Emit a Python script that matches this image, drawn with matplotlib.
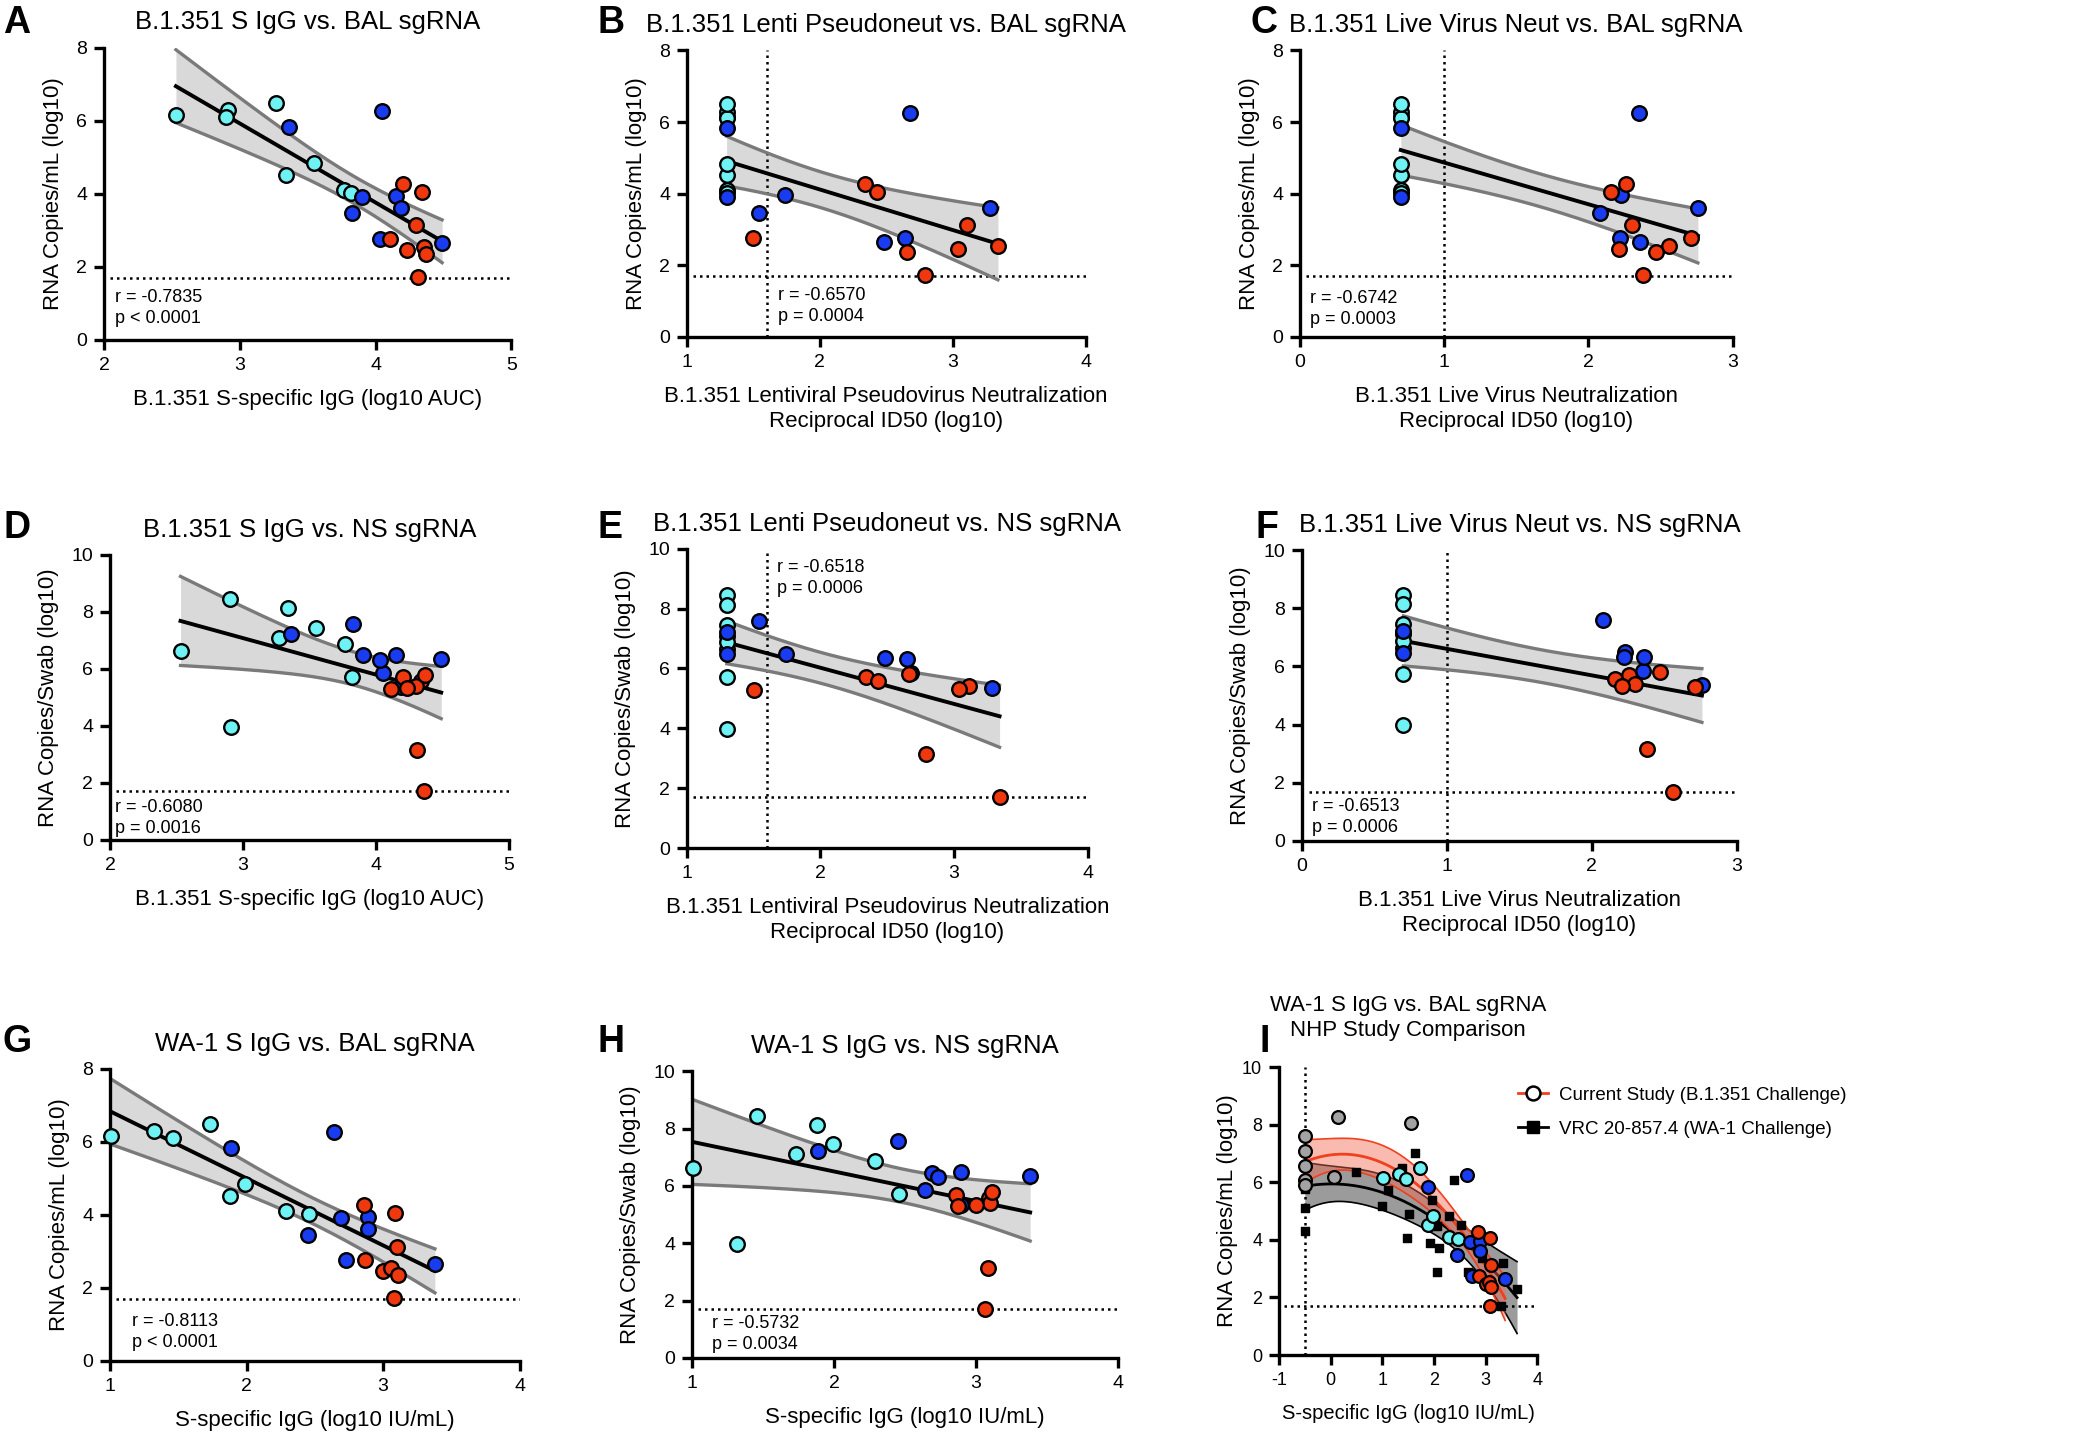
import numpy as np
import matplotlib
matplotlib.use('Agg')
import matplotlib.pyplot as plt
from matplotlib.lines import Line2D

plt.rcParams['font.family'] = 'Liberation Sans'
plt.rcParams['axes.unicode_minus'] = False

# 8 animals per group, same animal order in every list
bal_cyan = [6.15, 6.28, 6.11, 6.49, 4.52, 4.83, 4.09, 4.02]
bal_blue = [5.82, 6.26, 3.91, 3.46, 3.95, 3.61, 2.76, 2.65]
bal_red = [4.27, 4.05, 3.13, 2.76, 2.45, 2.54, 2.36, 1.72]

ns_cyan = [6.64, 3.97, 8.44, 7.10, 8.13, 7.45, 6.87, 5.73]
ns_blue = [7.22, 5.85, 6.47, 7.58, 6.49, 5.35, 6.32, 6.34]
ns_red = [5.70, 5.57, 5.40, 5.29, 5.32, 1.70, 5.80, 3.15]

igg351_cyan = [2.53, 2.91, 2.90, 3.27, 3.34, 3.55, 3.77, 3.82]
igg351_blue = [3.36, 4.05, 3.90, 3.83, 4.15, 4.19, 4.03, 4.49]
igg351_red = [4.20, 4.34, 4.30, 4.11, 4.23, 4.36, 4.37, 4.31]

lenti_cyan = [1.30, 1.30, 1.30, 1.30, 1.30, 1.30, 1.30, 1.30]
lenti_blue = [1.30, 2.68, 1.30, 1.54, 1.74, 3.28, 2.645, 2.48]
lenti_red = [2.34, 2.43, 3.11, 1.50, 3.04, 3.34, 2.66, 2.79]

live_cyan = [0.70, 0.70, 0.70, 0.70, 0.70, 0.70, 0.70, 0.70]
live_blue = [0.70, 2.35, 0.70, 2.08, 2.23, 2.76, 2.22, 2.36]
live_red = [2.26, 2.16, 2.30, 2.71, 2.21, 2.56, 2.47, 2.38]

wa1_cyan = [1.01, 1.32, 1.46, 1.73, 1.88, 1.99, 2.29, 2.46]
wa1_blue = [1.885, 2.64, 2.69, 2.45, 2.89, 2.89, 2.73, 3.38]
wa1_red = [2.86, 3.09, 3.10, 2.87, 3.00, 3.06, 3.11, 3.08]

# extra current-study animals shown only in panel I
wa1_gray = [-0.5, -0.5, -0.5, -0.5, -0.5, 0.07, 0.15, 1.55]
bal_gray = [7.59, 7.07, 6.55, 6.08, 5.91, 6.18, 8.25, 8.05]

# VRC 20-857.4 (WA-1 challenge); a few at -0.5 sit under the grey circles
vrc_igg = [-0.5, -0.5, -0.5, -0.5, -0.5, -0.5, 0.49, 1.00, 1.12, 1.38, 1.48, 1.51, 1.63,
           1.96, 1.93, 2.06, 2.09, 2.07, 2.29, 2.38, 2.53, 2.67, 2.93, 3.34, 3.29, 3.61]
vrc_bal = [5.10, 4.29, 5.75, 6.10, 6.60, 7.10, 6.35, 5.16, 5.74, 6.49, 4.08, 4.90, 7.01,
           5.37, 3.88, 4.48, 3.71, 2.87, 4.84, 6.08, 4.50, 2.87, 3.38, 3.21, 1.71, 2.28]

LOD = 1.7
CYAN = '#6EF2F4'
BLUE = '#1A3CF0'
RED = '#F0380F'
GRAY = '#A3A3A3'


def fit_band(x, y, deg, xs, t=2.07):
    x = np.asarray(x, float)
    y = np.asarray(y, float)
    X = np.vander(x, deg + 1)
    beta = np.linalg.lstsq(X, y, rcond=None)[0]
    resid = y - X @ beta
    s2 = resid @ resid / (len(x) - deg - 1)
    cov = s2 * np.linalg.inv(X.T @ X)
    Xs = np.vander(xs, deg + 1)
    fit = Xs @ beta
    se = np.sqrt(np.einsum('ij,jk,ik->i', Xs, cov, Xs))
    return fit, fit - t * se, fit + t * se


def style_axes(ax, xlim, xticks, ylim, yticks):
    ax.set_xlim(xlim)
    ax.set_ylim(ylim)
    ax.set_xticks(xticks)
    ax.set_yticks(yticks)
    for s in ['top', 'right']:
        ax.spines[s].set_visible(False)
    for s in ['left', 'bottom']:
        ax.spines[s].set_linewidth(2.4)
    ax.tick_params(direction='out', length=7, width=2.4, labelsize=14, pad=5)


fig = plt.figure(figsize=(21, 14.4), dpi=100)


def panel(rect, letter, letter_xy, title, xs, ys, xlim, xticks, ylim, yticks,
          xlabel, ylabel, stat, stat_xy, vline=None):
    ax = fig.add_axes(rect)
    allx = np.concatenate([np.asarray(v, float) for v in xs])
    ally = np.concatenate([np.asarray(v, float) for v in ys])
    grid = np.linspace(allx.min(), allx.max(), 200)
    fit, lo, hi = fit_band(allx, ally, 1, grid)
    ax.fill_between(grid, lo, hi, color='#d9d9d9', lw=0, zorder=1)
    ax.plot(grid, lo, color='#7a7a7a', lw=2.4, zorder=2)
    ax.plot(grid, hi, color='#7a7a7a', lw=2.4, zorder=2)
    ax.plot(grid, fit, color='black', lw=2.8, zorder=3)
    ax.axhline(LOD, xmin=0.015, color='black', ls=(0, (1, 1.6)), lw=1.8, zorder=1.5)
    if vline is not None:
        ax.axvline(vline, color='black', ls=(0, (1, 1.6)), lw=1.8, zorder=1.5)
    for x, y, c in zip(xs, ys, [CYAN, BLUE, RED]):
        ax.scatter(x, y, s=110, c=c, edgecolors='black', linewidths=1.7, zorder=4, clip_on=False)
    style_axes(ax, xlim, xticks, ylim, yticks)
    ax.set_title(title, fontsize=18.5, pad=13)
    ax.set_xlabel(xlabel, fontsize=16, labelpad=11, linespacing=1.25)
    ax.set_ylabel(ylabel, fontsize=16, labelpad=9)
    ax.text(stat_xy[0], stat_xy[1], stat, transform=ax.transAxes, fontsize=13,
            va='top', ha='left', linespacing=1.3)
    fig.text(letter_xy[0] / 2100, 1 - letter_xy[1] / 1440, letter, fontsize=27,
             fontweight='bold', ha='left', va='center')
    return ax


lenti_label = 'B.1.351 Lentiviral Pseudovirus Neutralization\nReciprocal ID50 (log10)'
live_label = 'B.1.351 Live Virus Neutralization\nReciprocal ID50 (log10)'
igg351_label = 'B.1.351 S-specific IgG (log10 AUC)'
wa1_label = 'S-specific IgG (log10 IU/mL)'
bal_label = 'RNA Copies/mL (log10)'
ns_label = 'RNA Copies/Swab (log10)'

panel([0.0495, 0.764, 0.194, 0.203], 'A', (3, 23), 'B.1.351 S IgG vs. BAL sgRNA',
      [igg351_cyan, igg351_blue, igg351_red], [bal_cyan, bal_blue, bal_red],
      (2, 5), [2, 3, 4, 5], (0, 8), [0, 2, 4, 6, 8], igg351_label, bal_label,
      'r = -0.7835\np < 0.0001', (0.027, 0.175))
panel([0.327, 0.766, 0.190, 0.199], 'B', (598, 23), 'B.1.351 Lenti Pseudoneut vs. BAL sgRNA',
      [lenti_cyan, lenti_blue, lenti_red], [bal_cyan, bal_blue, bal_red],
      (1, 4), [1, 2, 3, 4], (0, 8), [0, 2, 4, 6, 8], lenti_label, bal_label,
      'r = -0.6570\np = 0.0004', (0.23, 0.175), vline=1.6)
panel([0.619, 0.766, 0.206, 0.199], 'C', (1250, 23), 'B.1.351 Live Virus Neut vs. BAL sgRNA',
      [live_cyan, live_blue, live_red], [bal_cyan, bal_blue, bal_red],
      (0, 3), [0, 1, 2, 3], (0, 8), [0, 2, 4, 6, 8], live_label, bal_label,
      'r = -0.6742\np = 0.0003', (0.023, 0.165), vline=1.0)
panel([0.0524, 0.4167, 0.190, 0.198], 'D', (3, 528), 'B.1.351 S IgG vs. NS sgRNA',
      [igg351_cyan, igg351_blue, igg351_red], [ns_cyan, ns_blue, ns_red],
      (2, 5), [2, 3, 4, 5], (0, 10), [0, 2, 4, 6, 8, 10], igg351_label, ns_label,
      'r = -0.6080\np = 0.0016', (0.012, 0.145))
panel([0.327, 0.411, 0.191, 0.208], 'E', (597, 528), 'B.1.351 Lenti Pseudoneut vs. NS sgRNA',
      [lenti_cyan, lenti_blue, lenti_red], [ns_cyan, ns_blue, ns_red],
      (1, 4), [1, 2, 3, 4], (0, 10), [0, 2, 4, 6, 8, 10], lenti_label, ns_label,
      'r = -0.6518\np = 0.0006', (0.224, 0.965), vline=1.6)
panel([0.620, 0.416, 0.207, 0.202], 'F', (1255, 528), 'B.1.351 Live Virus Neut vs. NS sgRNA',
      [live_cyan, live_blue, live_red], [ns_cyan, ns_blue, ns_red],
      (0, 3), [0, 1, 2, 3], (0, 10), [0, 2, 4, 6, 8, 10], live_label, ns_label,
      'r = -0.6513\np = 0.0006', (0.023, 0.147), vline=1.0)
panel([0.0524, 0.0549, 0.195, 0.203], 'G', (3, 1042), 'WA-1 S IgG vs. BAL sgRNA',
      [wa1_cyan, wa1_blue, wa1_red], [bal_cyan, bal_blue, bal_red],
      (1, 4), [1, 2, 3, 4], (0, 8), [0, 2, 4, 6, 8], wa1_label, bal_label,
      'r = -0.8113\np < 0.0001', (0.054, 0.165))
panel([0.3295, 0.057, 0.203, 0.199], 'H', (597, 1042), 'WA-1 S IgG vs. NS sgRNA',
      [wa1_cyan, wa1_blue, wa1_red], [ns_cyan, ns_blue, ns_red],
      (1, 4), [1, 2, 3, 4], (0, 10), [0, 2, 4, 6, 8, 10], wa1_label, ns_label,
      'r = -0.5732\np = 0.0034', (0.047, 0.150))

# panel I: quadratic fits, current study vs VRC 20-857.4
ax = fig.add_axes([0.609, 0.059, 0.123, 0.2])
cur_x = np.concatenate([wa1_cyan, wa1_blue, wa1_red, wa1_gray])
cur_y = np.concatenate([bal_cyan, bal_blue, bal_red, bal_gray])
g1 = np.linspace(cur_x.min(), cur_x.max(), 200)
f1, lo1, hi1 = fit_band(cur_x, cur_y, 2, g1, t=2.03)
g2 = np.linspace(min(vrc_igg), max(vrc_igg), 200)
f2, lo2, hi2 = fit_band(vrc_igg, vrc_bal, 2, g2, t=2.07)

ax.fill_between(g2, lo2, hi2, color='#8a8a8a', alpha=0.85, lw=0, zorder=1)
ax.plot(g2, lo2, color='black', lw=1.2, zorder=2)
ax.plot(g2, hi2, color='black', lw=1.2, zorder=2)
ax.plot(g2, f2, color='black', lw=2.0, zorder=2)
ax.fill_between(g1, lo1, hi1, color='#F26A50', alpha=0.45, lw=0, zorder=2.5)
ax.plot(g1, lo1, color='#F0401E', lw=1.2, zorder=2.6)
ax.plot(g1, hi1, color='#F0401E', lw=1.2, zorder=2.6)
ax.plot(g1, f1, color='#F0401E', lw=2.0, zorder=2.6)
ax.axhline(LOD, xmin=0.02, color='black', ls=(0, (1, 1.6)), lw=1.8, zorder=1.5)
ax.axvline(-0.5, color='black', ls=(0, (1, 1.6)), lw=1.8, zorder=1.5)
ax.scatter(vrc_igg, vrc_bal, s=40, marker='s', c='black', zorder=3)
for x, y, c in zip([wa1_gray, wa1_cyan, wa1_blue, wa1_red], [bal_gray, bal_cyan, bal_blue, bal_red],
                   [GRAY, CYAN, BLUE, RED]):
    ax.scatter(x, y, s=85, c=c, edgecolors='black', linewidths=1.6, zorder=4, clip_on=False)
style_axes(ax, (-1, 4), [-1, 0, 1, 2, 3, 4], (0, 10), [0, 2, 4, 6, 8, 10])
ax.tick_params(labelsize=13)
ax.set_title('WA-1 S IgG vs. BAL sgRNA\nNHP Study Comparison', fontsize=16, pad=22,
             linespacing=1.3)
ax.set_xlabel(wa1_label, fontsize=14.5, labelpad=11)
ax.set_ylabel(bal_label, fontsize=16, labelpad=3)
fig.text(1260 / 2100, 1 - 1042 / 1440, 'I', fontsize=27, fontweight='bold', ha='left', va='center')

handles = [Line2D([], [], color='#F0401E', lw=2, marker='o', markersize=10,
                  markerfacecolor='white', markeredgecolor='black', markeredgewidth=1.8),
           Line2D([], [], color='black', lw=2, marker='s', markersize=8,
                  markerfacecolor='black', markeredgecolor='black')]
ax.legend(handles, ['Current Study (B.1.351 Challenge)', 'VRC 20-857.4 (WA-1 Challenge)'],
          loc='upper left', bbox_to_anchor=(0.86, 0.99), frameon=False, handlelength=1.6,
          handletextpad=0.6, labelspacing=0.9, prop={'size': 13.5})

fig.savefig('out.png', dpi=100)
